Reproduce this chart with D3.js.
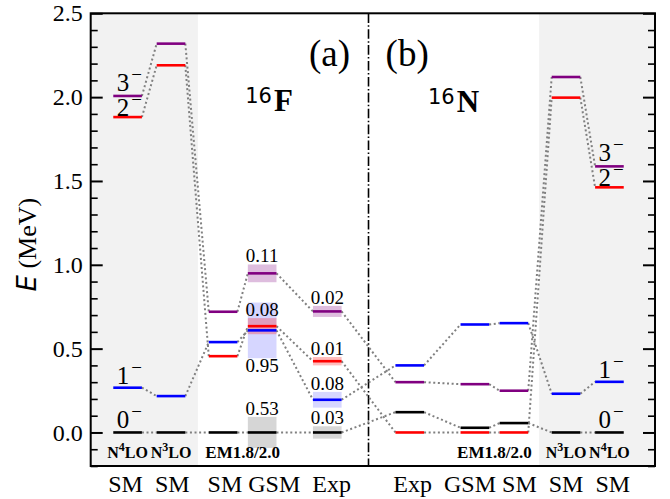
<!DOCTYPE html>
<html>
<head>
<meta charset="utf-8">
<script src="https://cdn.jsdelivr.net/npm/d3@7"></script>
<style>
  body { margin: 0; background: #fff; }
  text { font-family: "Liberation Serif", "Times New Roman", serif; }
</style>
</head>
<body>
<svg id="chart" width="670" height="499"></svg>
<script>
// columns: 16F (SM N4LO, SM N3LO, SM EM, GSM EM, Exp) | 16N (Exp, GSM EM, SM EM, SM N3LO, SM N4LO)
var columns = ["F_SM_N4LO", "F_SM_N3LO", "F_SM_EM", "F_GSM_EM", "F_Exp",
               "N_Exp", "N_GSM_EM", "N_SM_EM", "N_SM_N3LO", "N_SM_N4LO"];
var colX = [0.85, 1.85, 3.05, 3.95, 5.45, 7.35, 8.85, 9.75, 10.95, 11.95];
var dividerX = 6.4;

// level energies (MeV) per state, one value per column
var states = ["0", "1", "2", "3"];
var e0 = [0, 0, 0, 0, 0, 0.121, 0.028, 0.056, 0, 0];
var e1 = [0.267, 0.217, 0.539, 0.609, 0.195, 0.400, 0.644, 0.652, 0.231, 0.302];
var e2 = [1.881, 2.190, 0.455, 0.634, 0.425, 0, 0, 0, 1.997, 1.462];
var e3 = [2.007, 2.319, 0.720, 0.949, 0.722, 0.300, 0.288, 0.249, 2.120, 1.587];
var energies = [e0, e1, e2, e3];

// widths (labels) and drawn band half-heights for 16F GSM and Exp
var gsmWidthText = ["0.53", "0.95", "0.08", "0.11"];
var gsmBand = [0.093, 0.166, 0.048, 0.053];
var expWidthText = ["0.03", "0.08", "0.01", "0.02"];
var expBand = [0.037, 0.047, 0.025, 0.033];

var yTicksMajor = [0.0, 0.5, 1.0, 1.5, 2.0, 2.5];
var bottomLeft = "SM  SM   SM GSM  Exp";
var bottomRight = "Exp  GSM SM  SM  SM";
var innerLabels = [
  { x: colX[0], sup: "4" }, { x: colX[1], sup: "3" },
  { x: colX[8], sup: "3" }, { x: colX[9], sup: "4" }
];
var emLabel = "EM1.8/2.0";

var colors = ["black", "blue", "red", "purple"];

var margin = { top: 13.3, right: 15, bottom: 33, left: 90.7 };
var width = 670 - margin.left - margin.right;
var height = 499 - margin.top - margin.bottom;

var svg = d3.select("#chart");
var g = svg.append("g")
    .attr("transform", "translate(" + margin.left + "," + margin.top + ")");

var x = d3.scaleLinear().domain([0, 13]).range([0, width]);
var y = d3.scaleLinear().domain([-0.2, 2.5]).range([height, 0]);
var hw = 0.33;

// shaded regions (chiral SM columns)
g.append("rect").attr("x", x(0)).attr("y", 0)
    .attr("width", x(2.47) - x(0)).attr("height", height).attr("fill", "#f2f2f2");
g.append("rect").attr("x", x(10.33)).attr("y", 0)
    .attr("width", x(13) - x(10.33)).attr("height", height).attr("fill", "#f2f2f2");

// ticks (inward, both sides)
var minor = d3.range(-2, 26).map(function(d) { return d / 10; })
    .filter(function(d) { return yTicksMajor.indexOf(d) < 0; });

g.append("g").call(d3.axisLeft(y).tickValues(minor).tickSize(-7).tickFormat(""))
    .call(function(a) { a.select(".domain").remove(); a.selectAll("line").attr("stroke-width", 1.6); });
g.append("g").attr("transform", "translate(" + width + ",0)")
    .call(d3.axisRight(y).tickValues(minor).tickSize(-7).tickFormat(""))
    .call(function(a) { a.select(".domain").remove(); a.selectAll("line").attr("stroke-width", 1.6); });

g.append("g")
    .call(d3.axisLeft(y).tickValues(yTicksMajor).tickSize(-12).tickPadding(8).tickFormat(d3.format(".1f")))
    .call(function(a) {
      a.select(".domain").remove();
      a.selectAll("line").attr("stroke-width", 2);
      a.selectAll("text").attr("font-size", 24).attr("fill", "#000")
        .style("font-family", "'Liberation Serif', serif");
    });
g.append("g").attr("transform", "translate(" + width + ",0)")
    .call(d3.axisRight(y).tickValues(yTicksMajor).tickSize(-12).tickFormat(""))
    .call(function(a) { a.select(".domain").remove(); a.selectAll("line").attr("stroke-width", 2); });

// divider
g.append("line")
    .attr("x1", x(dividerX)).attr("x2", x(dividerX)).attr("y1", 0).attr("y2", height)
    .attr("stroke", "black").attr("stroke-width", 1.6)
    .attr("stroke-dasharray", "9.6,2.4,1.5,2.4");

// uncertainty bands
function bands(ci, half) {
  // blue first so red/purple sit on top
  [1, 0, 2, 3].forEach(function(s) {
    var e = energies[s][ci];
    g.append("rect")
      .attr("x", x(colX[ci] - hw)).attr("width", x(colX[ci] + hw) - x(colX[ci] - hw))
      .attr("y", y(e + half[s])).attr("height", y(e - half[s]) - y(e + half[s]))
      .attr("fill", colors[s])
      .attr("fill-opacity", (s == 1 || s == 0) ? 0.16 : 0.26);
  });
}
bands(3, gsmBand);
bands(4, expBand);

// dotted connectors
var links = [];
for (var i = 0; i < columns.length - 1; i++) {
  energies.forEach(function(es) {
    links.push({ x1: colX[i] + hw, y1: es[i], x2: colX[i + 1] - hw, y2: es[i + 1] });
  });
}
g.selectAll(".link").data(links).enter().append("line")
    .attr("class", "link")
    .attr("x1", function(d) { return x(d.x1); })
    .attr("x2", function(d) { return x(d.x2); })
    .attr("y1", function(d) { return y(d.y1); })
    .attr("y2", function(d) { return y(d.y2); })
    .attr("stroke", "#808080").attr("stroke-width", 2)
    .attr("stroke-dasharray", "2,2.6");

// levels
var levels = [];
energies.forEach(function(es, s) {
  es.forEach(function(e, ci) { levels.push({ s: s, c: ci, e: e }); });
});
g.selectAll(".level").data(levels).enter().append("line")
    .attr("class", "level")
    .attr("x1", function(d) { return x(colX[d.c] - hw); })
    .attr("x2", function(d) { return x(colX[d.c] + hw); })
    .attr("y1", function(d) { return y(d.e); })
    .attr("y2", function(d) { return y(d.e); })
    .attr("stroke", function(d) { return colors[d.s]; })
    .attr("stroke-width", 2.6);

// width labels
function widthLabels(ci, half, txt) {
  txt.forEach(function(t, s) {
    var e = energies[s][ci];
    var below = (ci == 3 && s == 1);
    g.append("text")
      .attr("x", x(colX[ci]))
      .attr("y", below ? y(e - half[s]) + 14 : y(e + half[s]) - 2)
      .attr("text-anchor", "middle")
      .attr("font-size", 19)
      .text(t);
  });
}
widthLabels(3, gsmBand, gsmWidthText);
widthLabels(4, expBand, expWidthText);

// spin labels next to the N4LO columns
var spinShift = [4.5, 4, 1.5, 5];
[0, 9].forEach(function(ci) {
  states.forEach(function(st, s) {
    var t = g.append("text")
      .attr("x", x(colX[ci] + hw))
      .attr("y", y(energies[s][ci]) - spinShift[s])
      .attr("text-anchor", "end")
      .attr("font-size", 25);
    t.append("tspan").text(st);
    t.append("tspan").attr("font-size", 19).attr("dx", 2).attr("dy", -10).text("\u2212");
  });
});

// panel labels
function panel(xv, ev, txt) {
  g.append("text").attr("x", x(xv)).attr("y", y(ev))
    .attr("text-anchor", "middle").attr("font-size", 37).text(txt);
}
panel(5.5, 2.185, "(a)");
panel(7.29, 2.185, "(b)");

function nucleus(xv, ev, el) {
  var t = g.append("text").attr("x", x(xv)).attr("y", y(ev))
    .attr("text-anchor", "middle");
  t.append("tspan").style("font-family", "'DejaVu Sans', sans-serif")
    .attr("font-size", 21).attr("dy", -8).text("16");
  t.append("tspan").attr("font-size", 31).attr("font-weight", "bold")
    .attr("dx", 2).attr("dy", 8).text(el);
}
nucleus(4.11, 1.92, "F");
nucleus(8.36, 1.91, "N");

// interaction labels inside the frame
innerLabels.forEach(function(d) {
  var t = g.append("text").attr("x", x(d.x)).attr("y", y(-0.152))
    .attr("text-anchor", "middle").attr("font-size", 16).attr("font-weight", "bold");
  t.append("tspan").text("N");
  t.append("tspan").attr("font-size", 12).attr("dy", -7).text(d.sup);
  t.append("tspan").attr("dy", 7).text("LO");
});
g.append("text").attr("x", x((colX[2] + colX[3]) / 2)).attr("y", y(-0.152))
    .attr("text-anchor", "middle").attr("font-size", 17).attr("font-weight", "bold")
    .text(emLabel);
g.append("text").attr("x", x((colX[6] + colX[7]) / 2)).attr("y", y(-0.152))
    .attr("text-anchor", "middle").attr("font-size", 17).attr("font-weight", "bold")
    .text(emLabel);

// bottom method labels
g.append("text").attr("x", x(dividerX / 2)).attr("y", height + 26)
    .attr("text-anchor", "middle").attr("font-size", 24)
    .style("white-space", "pre").text(bottomLeft);
g.append("text").attr("x", x((dividerX + 13) / 2)).attr("y", height + 26)
    .attr("text-anchor", "middle").attr("font-size", 24)
    .style("white-space", "pre").text(bottomRight);

// frame
g.append("rect").attr("width", width).attr("height", height)
    .attr("fill", "none").attr("stroke", "black").attr("stroke-width", 2);

// y label
var yl = svg.append("text")
    .attr("transform", "translate(36," + (margin.top + height / 2 + 5) + ") rotate(-90)")
    .attr("text-anchor", "middle").attr("font-size", 26);
yl.append("tspan").style("font-family", "'DejaVu Sans', sans-serif")
    .style("font-style", "italic").text("E");
yl.append("tspan").style("white-space", "pre").text(" (MeV)");
</script>
</body>
</html>
